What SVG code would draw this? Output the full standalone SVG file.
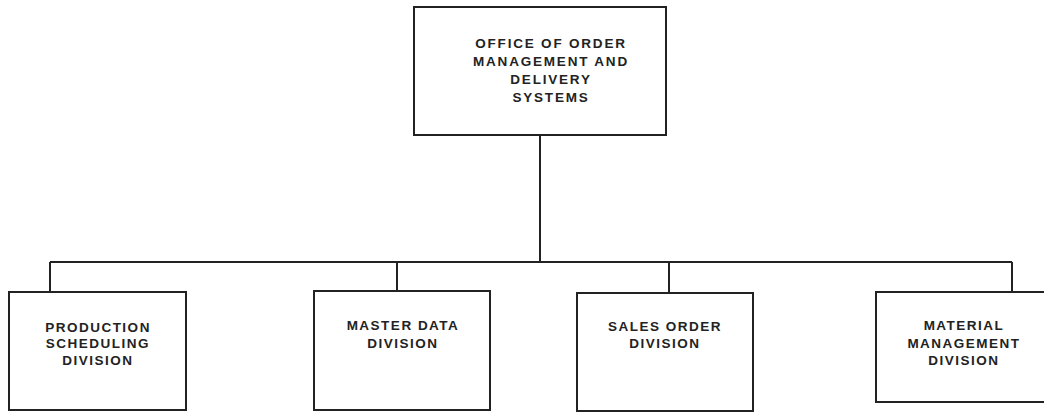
<svg xmlns="http://www.w3.org/2000/svg" width="1044" height="413" viewBox="0 0 1044 413">
<style>
.box{fill:#fff;stroke:#222;stroke-width:2}
.ln{fill:none;stroke:#222;stroke-width:2}
text{font-family:"Liberation Sans",Arial,sans-serif;font-weight:bold;font-size:13.5px;fill:#222;text-anchor:middle;letter-spacing:1.5px}
.t{font-size:13.5px;letter-spacing:1.8px}
</style>
<rect width="1044" height="413" fill="#fff"/>
<g id="connectors">
<path class="ln" d="M540 135V262M50 262H1012M50 262V292M397 262V291M669 262V293M1012 262V292"/>
</g>
<g id="office">
<rect class="box" x="414" y="7" width="252" height="128"/>
<text class="t" x="551" y="48">OFFICE OF ORDER</text>
<text class="t" x="551" y="66">MANAGEMENT AND</text>
<text class="t" x="551" y="84">DELIVERY</text>
<text class="t" x="551" y="102">SYSTEMS</text>
</g>
<g id="production">
<rect class="box" x="9" y="292" width="177" height="118"/>
<text x="98" y="332">PRODUCTION</text>
<text x="98" y="348">SCHEDULING</text>
<text x="98" y="365">DIVISION</text>
</g>
<g id="master">
<rect class="box" x="314" y="291" width="176" height="119"/>
<text x="403" y="330">MASTER DATA</text>
<text x="403" y="348">DIVISION</text>
</g>
<g id="sales">
<rect class="box" x="577" y="293" width="176" height="118"/>
<text x="665" y="331">SALES ORDER</text>
<text x="665" y="348">DIVISION</text>
</g>
<g id="material">
<rect class="box" x="876" y="292" width="176" height="110"/>
<text x="964" y="330">MATERIAL</text>
<text x="964" y="348">MANAGEMENT</text>
<text x="964" y="365">DIVISION</text>
</g>
</svg>
